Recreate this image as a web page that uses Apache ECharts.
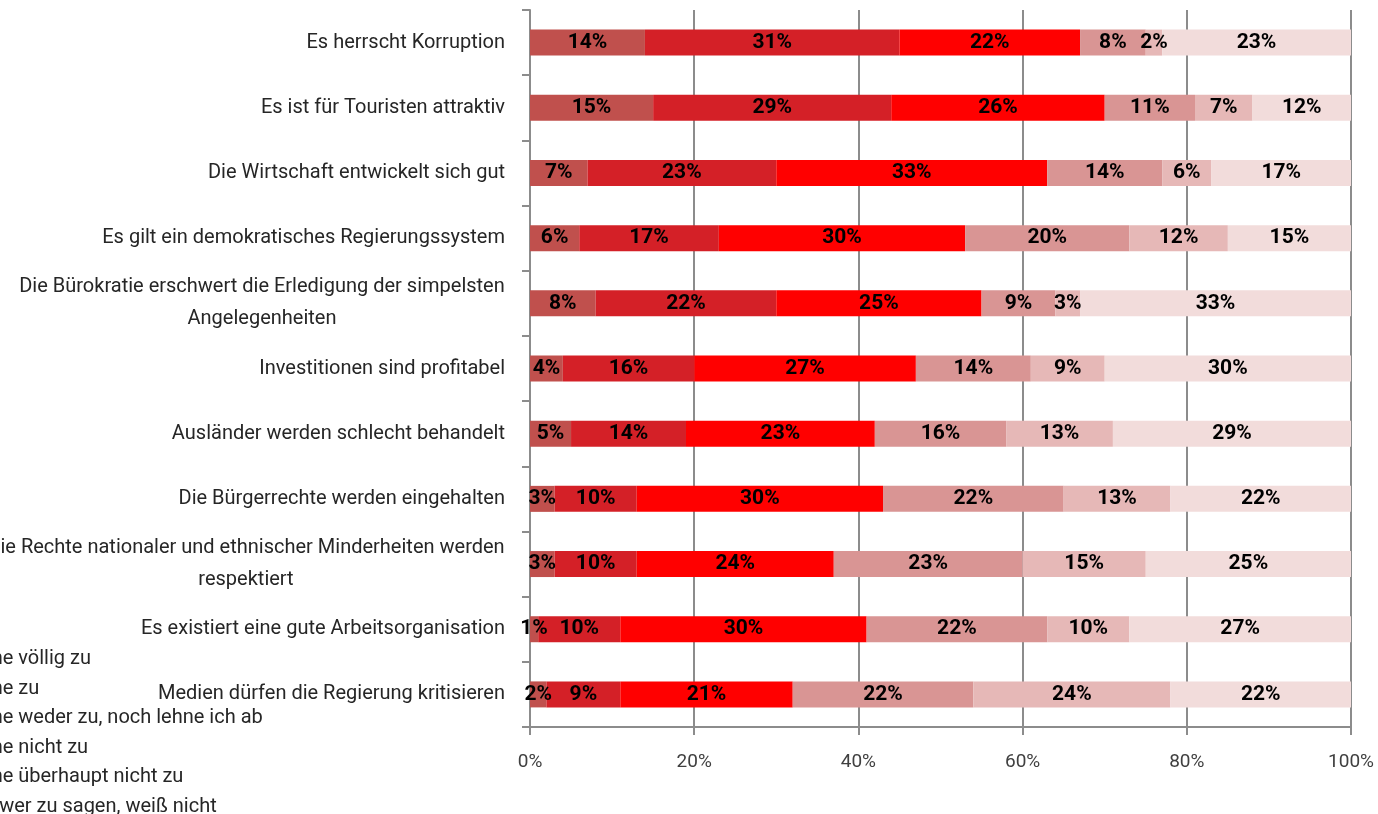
<!DOCTYPE html>
<html>
<head>
<meta charset="utf-8">
<script src="https://cdn.jsdelivr.net/npm/echarts@6/dist/echarts.min.js"></script>
<style>
  html, body { margin: 0; padding: 0; background: #fff; }
  #chart { width: 1378px; height: 814px; }
</style>
</head>
<body>
<div id="chart"></div>
<script>
// statements, top to bottom
var categories = [
  'Es herrscht Korruption',
  'Es ist für Touristen attraktiv',
  'Die Wirtschaft entwickelt sich gut',
  'Es gilt ein demokratisches Regierungssystem',
  'Die Bürokratie erschwert die Erledigung der simpelsten\nAngelegenheiten',
  'Investitionen sind profitabel',
  'Ausländer werden schlecht behandelt',
  'Die Bürgerrechte werden eingehalten',
  'Die Rechte nationaler und ethnischer Minderheiten werden\nrespektiert',
  'Es existiert eine gute Arbeitsorganisation',
  'Medien dürfen die Regierung kritisieren'
]

var seriesNames = [
  'Ich stimme völlig zu',
  'Ich stimme zu',
  'Ich stimme weder zu, noch lehne ich ab',
  'Ich stimme nicht zu',
  'Ich stimme überhaupt nicht zu',
  'Es ist schwer zu sagen, weiß nicht'
]

var voelligZu = [14, 15, 7, 6, 8, 4, 5, 3, 3, 1, 2]
var zu = [31, 29, 23, 17, 22, 16, 14, 10, 10, 10, 9]
var weder = [22, 26, 33, 30, 25, 27, 23, 30, 24, 30, 21]
var nichtZu = [8, 11, 14, 20, 9, 14, 16, 22, 23, 22, 22]
var ueberhauptNicht = [2, 7, 6, 12, 3, 9, 13, 13, 15, 10, 24]
var weissNicht = [23, 12, 17, 15, 33, 30, 29, 22, 25, 27, 22]

var xTicks = [0, 20, 40, 60, 80, 100]

var colors = ['#c0504d', '#d42027', '#ff0000', '#d99594', '#e6b8b7', '#f2dcdb']
var values = [voelligZu, zu, weder, nichtZu, ueberhauptNicht, weissNicht]

var font = 'Roboto'
var axisGrey = '#8c8c8c'

// two-line labels: lines centred under each other, block right-aligned
var ctx = document.createElement('canvas').getContext('2d')
ctx.font = '20px ' + font
var labelRich = {}
categories.forEach(function (c, i) {
  var lines = c.split('\n')
  if (lines.length > 1) {
    var w = Math.max.apply(null, lines.map(function (l) { return ctx.measureText(l).width }))
    labelRich['l' + i] = { width: Math.ceil(w), align: 'center', fontSize: 20, lineHeight: 32, color: '#262626' }
  }
})

var chart = echarts.init(document.getElementById('chart'))
chart.setOption({
  animation: false,
  textStyle: { fontFamily: font },
  legend: {
    orient: 'vertical',
    left: -110,
    top: 644,
    height: 300,
    itemGap: 9.6,
    itemWidth: 14,
    itemHeight: 14,
    icon: 'rect',
    textStyle: { fontSize: 20, lineHeight: 20, color: '#262626', fontFamily: font },
    data: seriesNames
  },
  grid: {
    left: 530,
    right: 27,
    top: 10,
    bottom: 87,
    containLabel: false,
    outerBoundsMode: 'none'
  },
  xAxis: {
    type: 'value',
    min: xTicks[0],
    max: xTicks[xTicks.length - 1],
    interval: 20,
    axisLine: { show: true, lineStyle: { color: axisGrey, width: 2 } },
    axisTick: { show: true, length: 8, lineStyle: { color: axisGrey, width: 2 } },
    splitLine: { show: true, lineStyle: { color: axisGrey, width: 2 } },
    axisLabel: {
      formatter: '{value}%',
      fontSize: 19,
      color: '#404040',
      margin: 26
    }
  },
  yAxis: {
    type: 'category',
    inverse: true,
    data: categories,
    axisLine: { show: true, lineStyle: { color: axisGrey, width: 2 } },
    axisTick: { show: true, length: 8, lineStyle: { color: axisGrey, width: 2 } },
    axisLabel: {
      fontSize: 20,
      color: '#262626',
      margin: 25,
      lineHeight: 32,
      align: 'right',
      rich: labelRich,
      formatter: function (value, index) {
        var lines = value.split('\n')
        if (lines.length === 1) return value
        return lines.map(function (l) { return '{l' + index + '|' + l + '}' }).join('\n')
      }
    }
  },
  series: values.map(function (data, i) {
    return {
      name: seriesNames[i],
      type: 'bar',
      stack: 'total',
      barWidth: 26,
      data: data,
      itemStyle: { color: colors[i] },
      label: {
        show: true,
        position: 'inside',
        formatter: '{c}%',
        fontSize: 21,
        fontWeight: 'bold',
        color: '#000',
        fontFamily: font
      }
    }
  })
})
</script>
</body>
</html>
